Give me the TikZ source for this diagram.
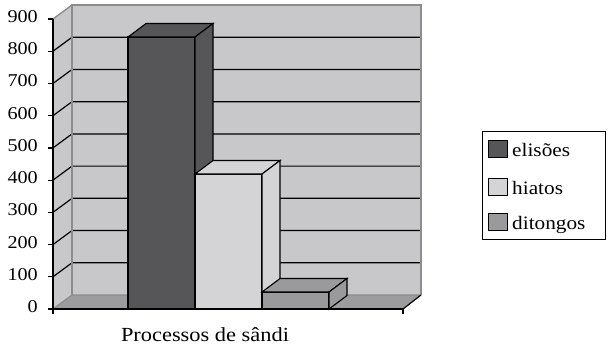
\documentclass[tikz,border=0pt]{standalone}
\usepackage{fontspec}
\setmainfont[FakeStretch=1.12]{Liberation Serif}
\begin{document}
\begin{tikzpicture}[x=1pt,y=-1pt,
  walledge/.style={draw=edgegray,line width=1.4pt},
  gridline/.style={draw=black,line width=1.2pt},
  axisline/.style={draw=black,line width=1.2pt},
  barface/.style={draw=black,line width=1.1pt,line join=miter},
  ticklabel/.style={anchor=base east,inner sep=0pt,font=\fontsize{18}{18}\selectfont},
  legtext/.style={anchor=base west,inner sep=0pt,font=\fontsize{19}{19}\selectfont},
  swatch/.style={draw=black,line width=0.9pt,minimum width=19pt,minimum height=17pt,inner sep=0pt,anchor=north west}]
\definecolor{wallgray}{HTML}{C8C8CA}
\definecolor{floorgray}{HTML}{9C9C9E}
\definecolor{edgegray}{HTML}{8C8C8C}
\definecolor{cEli}{HTML}{565659}
\definecolor{cHia}{HTML}{D4D4D6}
\definecolor{cDit}{HTML}{9A9A9C}
\useasboundingbox (0,0) rectangle (608,349);
% geometry: y(v)=309-0.3222 v ; wall depth (19,-14)
\coordinate (F0) at (53,309);
\coordinate (F9) at (53,19);
\coordinate (B9) at (72,5);
\coordinate (B0) at (72,295);
\coordinate (BR9) at (421,5);
\coordinate (BR0) at (421,295);
\coordinate (FR0) at (403,309);
% back wall
\fill[wallgray] (B9) -- (BR9) -- (BR0) -- (B0) -- cycle;
% left wall
\fill[wallgray] (F0) -- (F9) -- (B9) -- (B0) -- cycle;
% grid
\foreach \v in {1,...,8}{
  \pgfmathsetmacro{\yy}{309-32.22*\v}
  \draw[gridline] (53,\yy) -- (72,\yy-14) -- (421,\yy-14);
}
% wall edges
\draw[walledge] (B0) -- (B9) -- (BR9) -- (BR0);
\draw[walledge] (F9) -- (B9);
% floor
\fill[floorgray] (F0) -- (FR0) -- (BR0) -- (B0) -- cycle;
\draw[edgegray,line width=1.2pt] (F0) -- (B0) -- (BR0);
\draw[black,line width=1.2pt] (FR0) -- (BR0);
% bars
\foreach \xa/\xb/\yt/\c in {128/195/37/cEli,195/262/174/cHia,262/329/292/cDit}{
  \filldraw[barface,fill=\c] (\xa,309) rectangle (\xb,\yt);
  \filldraw[barface,fill=\c] (\xa,\yt) -- (\xa+18,\yt-13.5) -- (\xb+18,\yt-13.5) -- (\xb,\yt) -- cycle;
  \filldraw[barface,fill=\c] (\xb,\yt) -- (\xb+18,\yt-13.5) -- (\xb+18,295.5) -- (\xb,309) -- cycle;
}
% axes
\draw[axisline] (F9) -- (F0) -- (FR0);
\draw[axisline] (53,314) -- (F0);
\draw[axisline] (FR0) -- (403,314);
\foreach \v/\t in {0/0,1/100,2/200,3/300,4/400,5/500,6/600,7/700,8/800,9/900}{
  \pgfmathsetmacro{\yy}{309-32.22*\v}
  \draw[axisline] (48,\yy) -- (53,\yy);
  \node[ticklabel] (t\v) at (38,\yy+3.5) {\t};
}
% x label
\node[anchor=base,inner sep=0pt,font=\fontsize{20}{20}\selectfont] (xl) at (205,341) {Processos de sândi};
% legend
\node[draw=black,line width=1pt,minimum width=123pt,minimum height=108pt,anchor=north west,inner sep=0pt] (leg) at (482,131) {};
\node[swatch,fill=cEli] (s1) at (488,140) {};
\node[swatch,fill=cHia] (s2) at (488,178) {};
\node[swatch,fill=cDit] (s3) at (488,213) {};
\node[legtext] (l1) at (512,156) {elisões};
\node[legtext] (l2) at (512,194) {hiatos};
\node[legtext] (l3) at (512,229) {ditongos};
\end{tikzpicture}
\end{document}
